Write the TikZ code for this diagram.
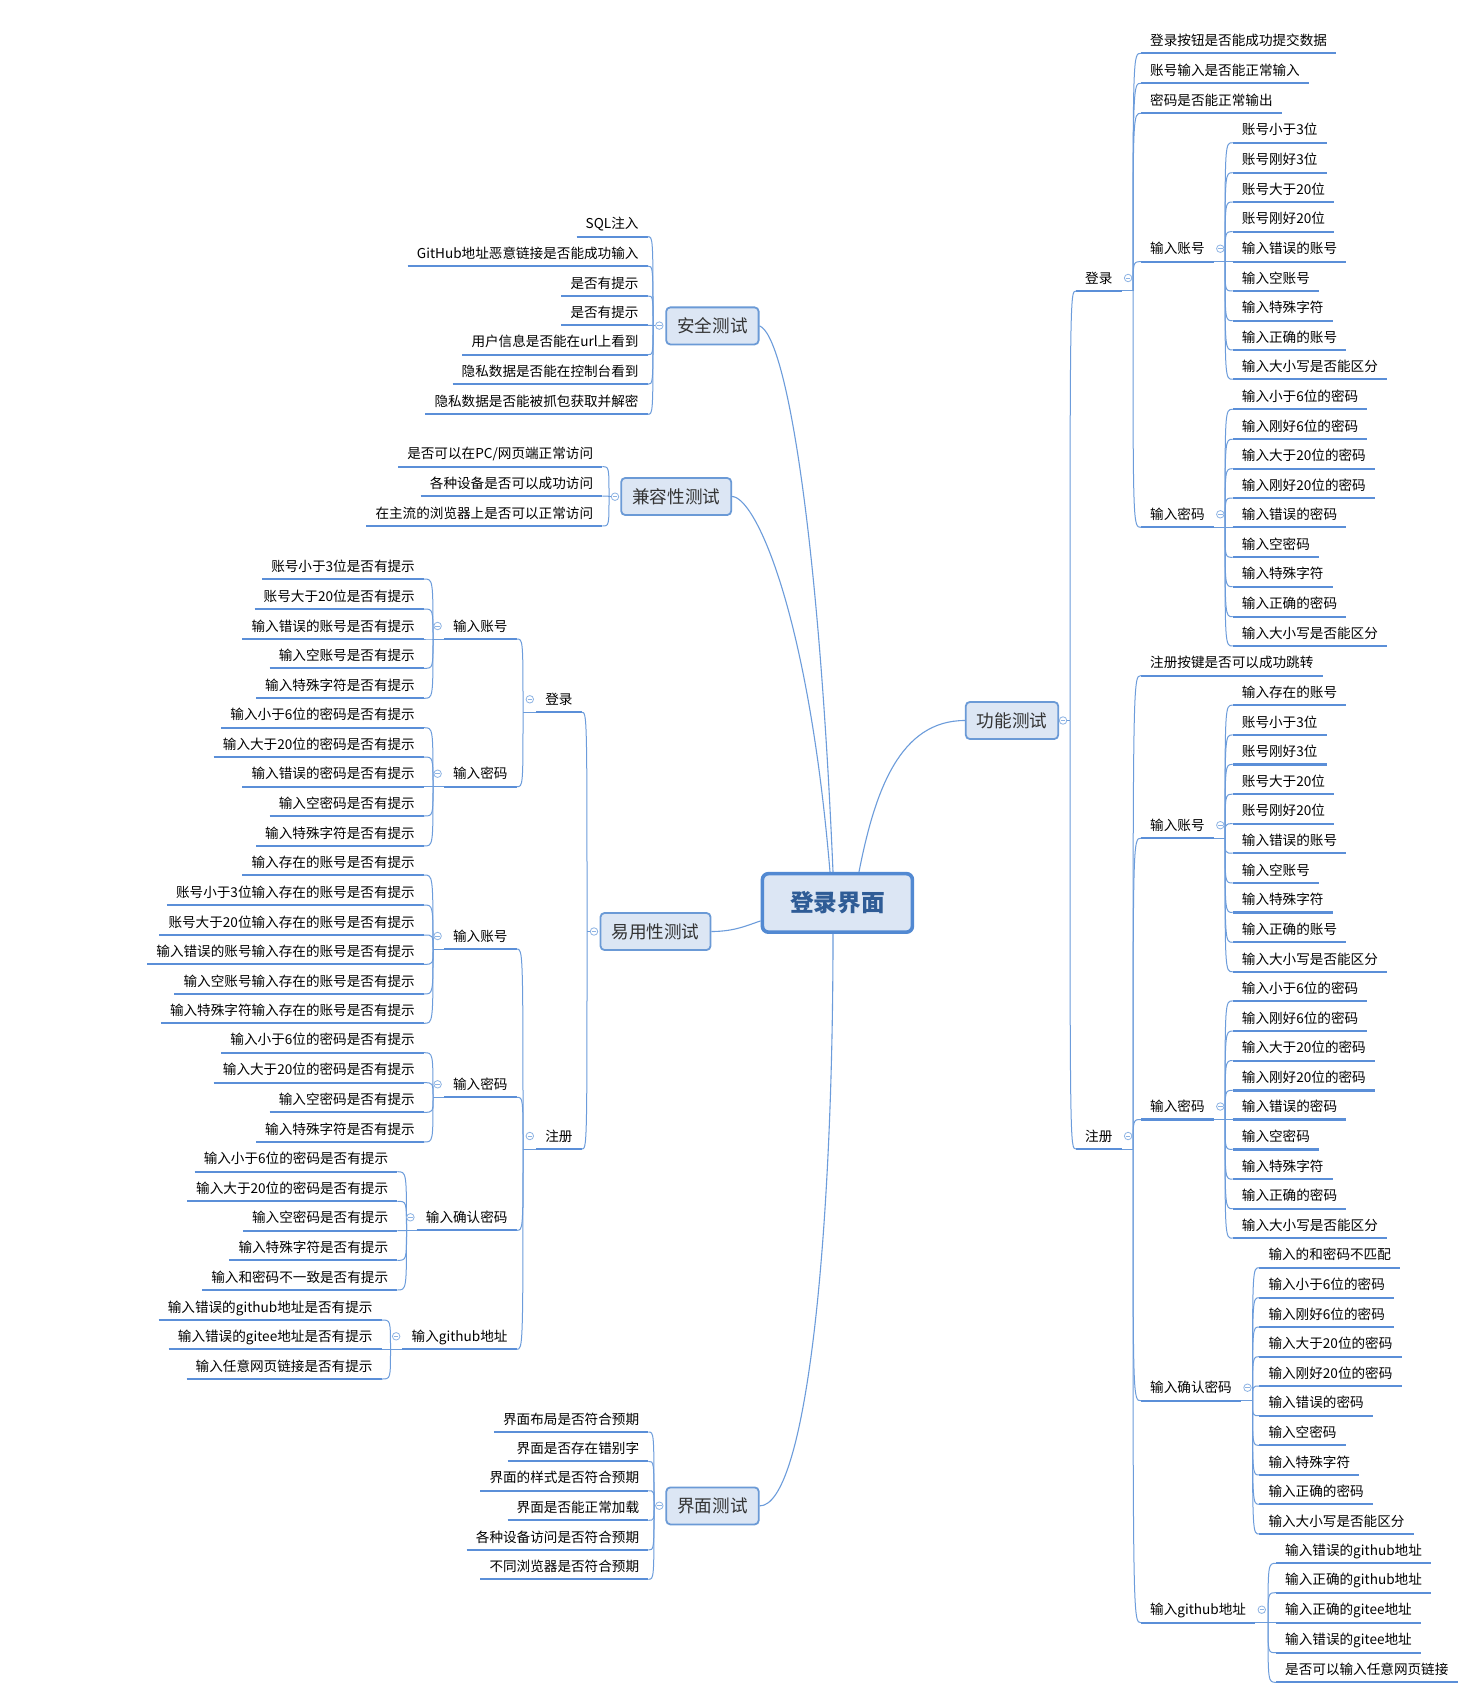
\documentclass[tikz,border=0pt]{standalone}
\usepackage{fontspec}
\setmainfont{Noto Sans CJK SC}
\usetikzlibrary{calc}
\definecolor{ulc}{HTML}{5B8FD8}
\definecolor{cnc}{HTML}{6C9CDB}
\definecolor{bxf}{HTML}{DCE6F4}
\definecolor{bxd}{HTML}{6B9AD6}
\definecolor{rtd}{HTML}{5289D2}
\definecolor{rtt}{HTML}{2F5C96}
\definecolor{hcc}{HTML}{8DB3E3}
\definecolor{tpt}{HTML}{333333}
\newcommand\leaffont{\fontsize{13.6}{16}\selectfont}
\tikzset{
  leafbase/.style={inner xsep=9pt, inner ysep=0pt, text height=11pt, text depth=7.6pt, font=\leaffont, text=black},
  leafL/.style={leafbase, anchor=south east},
  leafR/.style={leafbase, anchor=south west},
  uline/.style={draw=ulc, line width=2.2pt},
  conn/.style={draw=cnc, line width=1pt},
  conn2/.style={draw=cnc, line width=1.1pt},
  topic/.style={draw=bxd, line width=1.8pt, fill=bxf, rounded corners=4pt, minimum height=37pt, inner xsep=11pt, font=\fontsize{17.6}{20}\selectfont, text=tpt},
  rootbox/.style={draw=rtd, line width=3.6pt, fill=bxf, rounded corners=6pt, minimum width=150pt, minimum height=58.5pt, font=\fontsize{23.7}{26}\selectfont\bfseries, text=rtt},
  hubc/.style={circle, draw=hcc, fill=white, line width=0.8pt, minimum size=7.5pt, inner sep=0pt,
    path picture={\draw[hcc, line width=0.8pt] ($(path picture bounding box.center)+(-2.2,0)$) -- ($(path picture bounding box.center)+(2.2,0)$);}}
}
\newcommand\grpL[4]{%
  \foreach \yy/\tx [count=\i] in {#4}{%
    \node[leafL] (#1\i) at (#3,\yy) {\tx};
    \draw[uline] (#1\i.south west) -- (#1\i.south east);
    \draw[conn] (#2) .. controls (#2 |- #1\i.south east) .. (#1\i.south east);
  }}
\newcommand\grpR[4]{%
  \foreach \yy/\tx [count=\i] in {#4}{%
    \node[leafR] (#1\i) at (#3,\yy) {\tx};
    \draw[uline] (#1\i.south west) -- (#1\i.south east);
    \draw[conn] (#2) .. controls (#2 |- #1\i.south west) .. (#1\i.south west);
  }}
\begin{document}
\begin{tikzpicture}[x=1pt,y=-1pt]
\path[use as bounding box, fill=white] (0,0) rectangle (1457,1693);

% ---------- root and main topics ----------
\node[rootbox] (RT) at (837.4,902.9) {登录界面};
\node[topic] (ST) at (712.4,325.9) {安全测试};
\node[topic] (JR) at (676.2,496.5) {兼容性测试};
\node[topic] (YY) at (655.5,931.5) {易用性测试};
\node[topic] (JM) at (712.5,1505.9) {界面测试};
\node[topic] (GN) at (1012,720.5) {功能测试};

\draw[conn2] ([xshift=21.6pt]RT.north) .. controls (875,790) and (900,720.5) .. (GN.west);
\draw[conn2] (ST.east) .. controls (785,335) and (818,520) .. ([xshift=-4.4pt]RT.north);
\draw[conn2] (JR.east) .. controls (755,497) and (808,610) .. ([xshift=-7.4pt]RT.north);
\draw[conn2] (YY.east) .. controls (735,931.5) and (748,925) .. ([yshift=-18pt]RT.west);
\draw[conn2] ([xshift=-4.4pt]RT.south) .. controls (833,1250) and (805,1505.9) .. (JM.east);

% ---------- hub coordinates ----------
\coordinate (stO) at (653,325.6);
\coordinate (jrO) at (609,496.7);
\coordinate (jmO) at (654,1505.7);
\coordinate (yyO) at (587,931.5);
\coordinate (gnO) at (1070,720.5);

% ---------- 安全测试 ----------
\node[hubc] (stC) at (659.3,325.6) {};
\draw[conn] (stC.west) -- (stO);
\grpL{st}{stO}{647.7}{236.7/SQL注入, 266/GitHub地址恶意链接是否能成功输入, 296/是否有提示, 325.3/是否有提示, 354.7/用户信息是否能在url上看到, 384.3/隐私数据是否能在控制台看到, 414.3/隐私数据是否能被抓包获取并解密}

% ---------- 兼容性测试 ----------
\node[hubc] (jrC) at (615,496.7) {};
\draw[conn] (jrC.west) -- (jrO);
\grpL{jr}{jrO}{602.3}{466.7/{是否可以在PC/网页端正常访问}, 496/各种设备是否可以成功访问, 526/在主流的浏览器上是否可以正常访问}

% ---------- 界面测试 ----------
\node[hubc] (jmC) at (659.3,1505.7) {};
\draw[conn] (jmC.west) -- (jmO);
\grpL{jm}{jmO}{648.3}{1432/界面布局是否符合预期, 1461.3/界面是否存在错别字, 1490.7/界面的样式是否符合预期, 1520.3/界面是否能正常加载, 1550/各种设备访问是否符合预期, 1579.3/不同浏览器是否符合预期}

% ---------- 易用性测试 ----------
\node[leafL] (dL) at (581.7,712.3) {登录};
\node[leafL] (zL) at (581.7,1149) {注册};
\node[leafL] (dzL) at (516.7,639) {输入账号};
\node[leafL] (dmL) at (516.7,786.7) {输入密码};
\node[leafL] (zzL) at (516.7,949) {输入账号};
\node[leafL] (zmL) at (516.7,1097.3) {输入密码};
\node[leafL] (zqL) at (516.7,1230.3) {输入确认密码};
\node[leafL] (zgL) at (516.7,1349.3) {输入github地址};
\foreach \n in {dL,zL,dzL,dmL,zzL,zmL,zqL,zgL}{\draw[uline] (\n.south west) -- (\n.south east);}
\coordinate (dLO) at (523,712.3);
\coordinate (zLO) at (523,1149);
\coordinate (dzLO) at (433,639);
\coordinate (dmLO) at (433,786.7);
\coordinate (zzLO) at (433,949);
\coordinate (zmLO) at (433,1097.3);
\coordinate (zqLO) at (406.5,1230.3);
\coordinate (zgLO) at (390.5,1349.3);
\node[hubc] (yyC) at (594,931.5) {};
\draw[conn] (yyC.west) -- (yyO);
\draw[conn] (yyO) .. controls (yyO |- dL.south east) .. (dL.south east);
\draw[conn] (yyO) .. controls (yyO |- zL.south east) .. (zL.south east);
\foreach \n in {dL,zL,dzL,dmL,zzL,zmL,zqL,zgL}{\draw[conn] (\n.south west) -- (\n O);}
\draw[conn] (dLO) .. controls (dLO |- dzL.south east) .. (dzL.south east);
\draw[conn] (dLO) .. controls (dLO |- dmL.south east) .. (dmL.south east);
\draw[conn] (zLO) .. controls (zLO |- zzL.south east) .. (zzL.south east);
\draw[conn] (zLO) .. controls (zLO |- zmL.south east) .. (zmL.south east);
\draw[conn] (zLO) .. controls (zLO |- zqL.south east) .. (zqL.south east);
\draw[conn] (zLO) .. controls (zLO |- zgL.south east) .. (zgL.south east);
\grpL{dza}{dzLO}{424}{579/账号小于3位是否有提示, 609/账号大于20位是否有提示, 639/输入错误的账号是否有提示, 668.3/输入空账号是否有提示, 698.3/输入特殊字符是否有提示}
\grpL{dma}{dmLO}{424}{727.7/输入小于6位的密码是否有提示, 757/输入大于20位的密码是否有提示, 786.7/输入错误的密码是否有提示, 816/输入空密码是否有提示, 846/输入特殊字符是否有提示}
\grpL{zza}{zzLO}{424}{875/输入存在的账号是否有提示, 905/账号小于3位输入存在的账号是否有提示, 935/账号大于20位输入存在的账号是否有提示, 964.3/输入错误的账号输入存在的账号是否有提示, 994/输入空账号输入存在的账号是否有提示, 1023.3/输入特殊字符输入存在的账号是否有提示}
\grpL{zma}{zmLO}{424}{1052.7/输入小于6位的密码是否有提示, 1082.7/输入大于20位的密码是否有提示, 1112.3/输入空密码是否有提示, 1142/输入特殊字符是否有提示}
\grpL{zqa}{zqLO}{397.3}{1171.7/输入小于6位的密码是否有提示, 1201.3/输入大于20位的密码是否有提示, 1230.7/输入空密码是否有提示, 1260.3/输入特殊字符是否有提示, 1290/输入和密码不一致是否有提示}
\grpL{zga}{zgLO}{381.7}{1320/输入错误的github地址是否有提示, 1349.3/输入错误的gitee地址是否有提示, 1379/输入任意网页链接是否有提示}
\foreach \n in {dL,zL,dzL,dmL,zzL,zmL,zqL,zgL}{\node[hubc] (c\n) at ($(\n.south west)+(-6.3,-13)$) {};}

% ---------- 功能测试 ----------
\node[leafR] (dR) at (1076,291) {登录};
\node[leafR] (zR) at (1076,1149) {注册};
\node[leafR] (dzR) at (1141,261.7) {输入账号};
\node[leafR] (dmR) at (1141,527.3) {输入密码};
\node[leafR] (zzR) at (1141,838.2) {输入账号};
\node[leafR] (zmR) at (1141,1119.5) {输入密码};
\node[leafR] (zqR) at (1141,1400.7) {输入确认密码};
\node[leafR] (zgR) at (1141,1622.7) {输入github地址};
\foreach \n in {dR,zR,dzR,dmR,zzR,zmR,zqR,zgR}{\draw[uline] (\n.south west) -- (\n.south east);}
\coordinate (dRO) at (1133,291);
\coordinate (zRO) at (1133,1149);
\coordinate (dzRO) at (1225,261.7);
\coordinate (dmRO) at (1225,527.3);
\coordinate (zzRO) at (1225,838.2);
\coordinate (zmRO) at (1225,1119.5);
\coordinate (zqRO) at (1252.5,1400.7);
\coordinate (zgRO) at (1268,1622.7);
\node[hubc] (gnC) at (1063,720.5) {};
\draw[conn] (gnC.east) -- (gnO);
\draw[conn] (gnO) .. controls (gnO |- dR.south west) .. (dR.south west);
\draw[conn] (gnO) .. controls (gnO |- zR.south west) .. (zR.south west);
\foreach \n in {dR,zR,dzR,dmR,zzR,zmR,zqR,zgR}{\draw[conn] (\n.south east) -- (\n O);}
\draw[conn] (dRO) .. controls (dRO |- dzR.south west) .. (dzR.south west);
\draw[conn] (dRO) .. controls (dRO |- dmR.south west) .. (dmR.south west);
\draw[conn] (zRO) .. controls (zRO |- zzR.south west) .. (zzR.south west);
\draw[conn] (zRO) .. controls (zRO |- zmR.south west) .. (zmR.south west);
\draw[conn] (zRO) .. controls (zRO |- zqR.south west) .. (zqR.south west);
\draw[conn] (zRO) .. controls (zRO |- zgR.south west) .. (zgR.south west);
\grpR{dl}{dRO}{1141}{53.3/登录按钮是否能成功提交数据, 83.3/账号输入是否能正常输入, 113.3/密码是否能正常输出}
\grpR{dzb}{dzRO}{1232.7}{142.7/账号小于3位, 172.7/账号刚好3位, 202/账号大于20位, 231.7/账号刚好20位, 261.7/输入错误的账号, 291/输入空账号, 320.7/输入特殊字符, 350/输入正确的账号, 379.3/输入大小写是否能区分}
\grpR{dmb}{dmRO}{1232.7}{409.3/输入小于6位的密码, 439.3/输入刚好6位的密码, 468.7/输入大于20位的密码, 498/输入刚好20位的密码, 527.3/输入错误的密码, 557.3/输入空密码, 586.7/输入特殊字符, 616.7/输入正确的密码, 646/输入大小写是否能区分}
\grpR{zl}{zRO}{1141}{675.6/注册按键是否可以成功跳转}
\grpR{zzb}{zzRO}{1232.7}{705.1/输入存在的账号, 734.9/账号小于3位, 764.4/账号刚好3位, 794.2/账号大于20位, 823.7/账号刚好20位, 853.2/输入错误的账号, 883/输入空账号, 912.5/输入特殊字符, 942.3/输入正确的账号, 971.8/输入大小写是否能区分}
\grpR{zmb}{zmRO}{1232.7}{1000.9/输入小于6位的密码, 1031.1/输入刚好6位的密码, 1060.6/输入大于20位的密码, 1090.4/输入刚好20位的密码, 1119.5/输入错误的密码, 1149.4/输入空密码, 1179.2/输入特殊字符, 1208.7/输入正确的密码, 1238.2/输入大小写是否能区分}
\grpR{zqb}{zqRO}{1259.3}{1267.7/输入的和密码不匹配, 1297.7/输入小于6位的密码, 1327/输入刚好6位的密码, 1356.7/输入大于20位的密码, 1386/输入刚好20位的密码, 1415.7/输入错误的密码, 1445.3/输入空密码, 1475/输入特殊字符, 1504.3/输入正确的密码, 1534/输入大小写是否能区分}
\grpR{zgb}{zgRO}{1276}{1563.3/输入错误的github地址, 1592.7/输入正确的github地址, 1622.7/输入正确的gitee地址, 1652.7/输入错误的gitee地址, 1682.3/是否可以输入任意网页链接}
\foreach \n in {dR,zR,dzR,dmR,zzR,zmR,zqR,zgR}{\node[hubc] (c\n) at ($(\n.south east)+(6.5,-13)$) {};}
\end{tikzpicture}
\end{document}
